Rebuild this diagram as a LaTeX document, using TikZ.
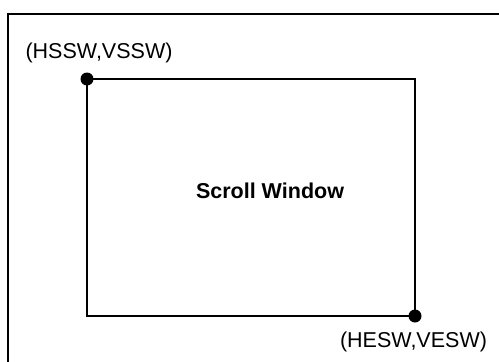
\documentclass[tikz,border=0pt]{standalone}
\usepackage{fontspec}
\setmainfont{Liberation Sans}
\begin{document}
\begin{tikzpicture}[x=1pt,y=-1pt,
  frame/.style={draw=black,line width=2pt},
  win/.style={draw=black,line width=2pt},
  corner/.style={circle,fill=black,inner sep=0pt,minimum size=13pt},
  lbl/.style={inner sep=0pt,anchor=base,font=\fontsize{21.5pt}{24pt}\selectfont}]
\useasboundingbox (0,0) rectangle (499,362);
\begin{scope}
\clip (0,0) rectangle (499,362);
\draw[frame] (8,14) rectangle (540,400);
\end{scope}
\coordinate (tl) at (87,79);
\coordinate (br) at (415,316);
\draw[win] (tl) rectangle (br);
\node[corner] (d1) at (tl) {};
\node[corner] (d2) at (br) {};
\node[lbl] (l1) at (99,58.5) {(HSSW,VSSW)};
\node[lbl] (l2) at (413.5,347) {(HESW,VESW)};
\node[lbl,font=\fontsize{21.5pt}{24pt}\selectfont\bfseries] (sw) at (270,198.5) {Scroll Window};
\end{tikzpicture}
\end{document}
